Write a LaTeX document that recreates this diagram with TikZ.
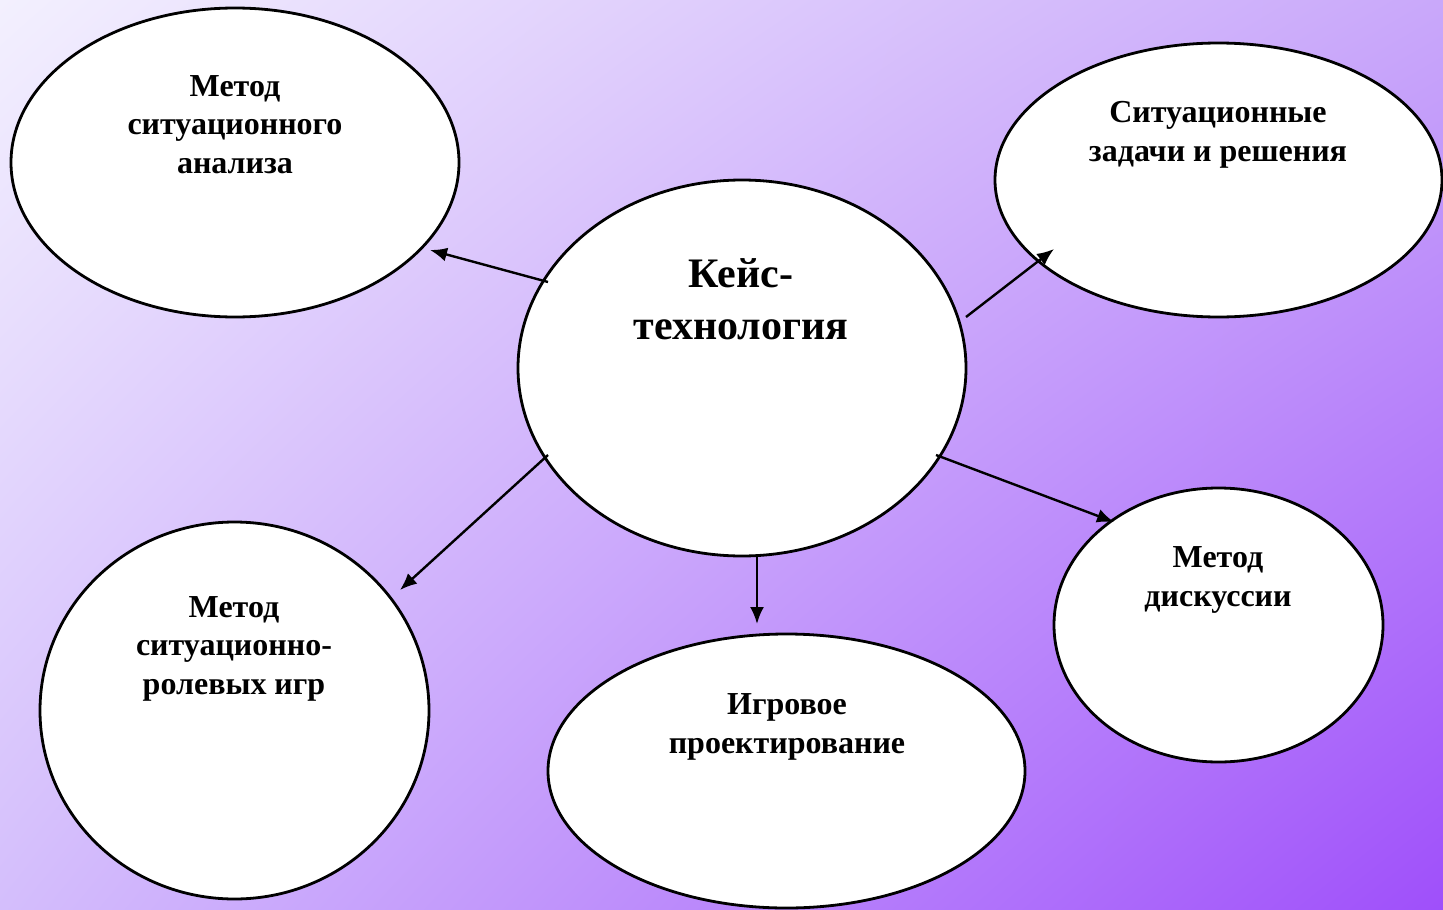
\documentclass[tikz,border=0pt]{standalone}
\usepackage{fontspec}
\setmainfont{Liberation Serif}
\usetikzlibrary{arrows.meta,shadings}
\definecolor{bgUL}{HTML}{F3F0FE}
\definecolor{bgUR}{HTML}{C9A8FA}
\definecolor{bgLL}{HTML}{D4BEFC}
\definecolor{bgLR}{HTML}{9F4FFA}
\tikzset{
  bubble/.style={draw=black, line width=2.8pt, fill=white},
  lbl/.style={align=center, font=\bfseries\fontsize{32}{38.5}\selectfont, inner sep=0pt},
  biglbl/.style={align=center, font=\bfseries\fontsize{42}{52}\selectfont, inner sep=0pt},
  conn/.style={line width=2.4pt, -{Latex[length=17pt,width=14pt]}}
}
\begin{document}
\begin{tikzpicture}[x=1pt,y=-1pt]
\shade[upper left=bgUL, upper right=bgUR, lower left=bgLL, lower right=bgLR] (0,0) rectangle (1443,910);
\useasboundingbox (0,0) rectangle (1443,910);
% ellipses
\path[bubble] (235,162.5) ellipse [x radius=224, y radius=154.5];
\path[bubble] (1218.5,180) ellipse [x radius=223.5, y radius=137];
\path[bubble] (742,368) ellipse [x radius=224, y radius=188];
\path[bubble] (234.5,710.5) ellipse [x radius=194.5, y radius=188.5];
\path[bubble] (786.5,771) ellipse [x radius=238.5, y radius=137];
\path[bubble] (1218.5,625) ellipse [x radius=164.5, y radius=137];
% texts
\node[lbl] (tl) at (235,124.5) {Метод\\ситуационного\\анализа};
\node[lbl] (tr) at (1218,135) {Ситуационные\\задачи и решения};
\node[biglbl] (c) at (741,299) {Кейс-\\технология};
\node[lbl] (bl) at (234,648.5) {Метод\\ситуационно-\\ролевых игр};
\node[lbl] (bm) at (787,727) {Игровое\\проектирование};
\node[lbl] (r) at (1218,580) {Метод\\дискуссии};
% connector anchors
\coordinate (a1s) at (548,282); \coordinate (a1e) at (430,250);
\coordinate (a2s) at (966,317); \coordinate (a2e) at (1054,249);
\coordinate (a3s) at (548,455); \coordinate (a3e) at (400,590);
\coordinate (a4s) at (757,556); \coordinate (a4e) at (757,624);
\coordinate (a5s) at (936,455); \coordinate (a5e) at (1114,522);
\draw[conn] (a1s) -- (a1e);
\draw[conn] (a2s) -- (a2e);
\draw[conn] (a3s) -- (a3e);
\draw[conn] (a4s) -- (a4e);
\draw[conn] (a5s) -- (a5e);
\end{tikzpicture}
\end{document}
